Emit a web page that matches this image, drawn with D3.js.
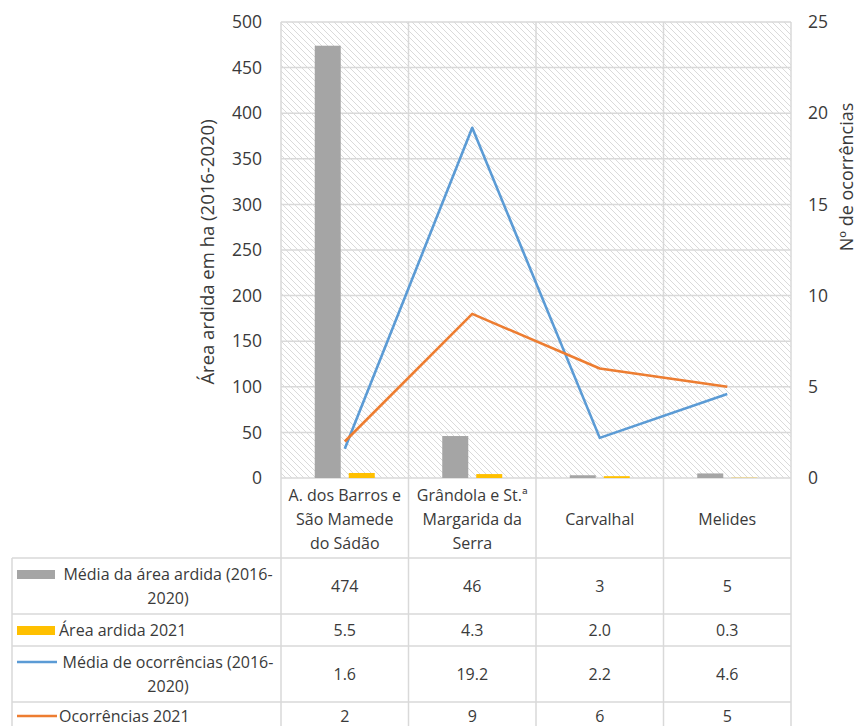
<!DOCTYPE html>
<html><head><meta charset="utf-8">
<script src="https://cdn.jsdelivr.net/npm/d3@7"></script>
<style>body{margin:0;background:#fff}svg{display:block;font-family:"Open Sans",sans-serif}</style>
</head><body>
<script>
const categories = [["A. dos Barros e","São Mamede","do Sádão"],["Grândola e St.ª","Margarida da","Serra"],["Carvalhal"],["Melides"]];
const mediaArea = [474, 46, 3, 5];
const area2021 = [5.5, 4.3, 2.0, 0.3];
const mediaOcorr = [1.6, 19.2, 2.2, 4.6];
const ocorr2021 = [2, 9, 6, 5];
const tableText = [["474","46","3","5"],["5.5","4.3","2.0","0.3"],["1.6","19.2","2.2","4.6"],["2","9","6","5"]];
const seriesLabels = [["Média da área ardida (2016-","2020)"],["Área ardida 2021"],["Média de ocorrências (2016-","2020)"],["Ocorrências 2021"]];
const leftTicks = [0,50,100,150,200,250,300,350,400,450,500];
const rightTicks = [0,5,10,15,20,25];
const colors = ["#a5a5a5","#ffc000","#5b9bd5","#ed7d31"];

const W=859,H=726;
const svg=d3.select("body").append("svg").attr("width",W).attr("height",H);
const L=281,R=791,T=22,B=478;
const x=d3.scaleBand().domain(d3.range(4)).range([L,R]);
const yL=d3.scaleLinear().domain([0,500]).range([B,T]);
const yR=d3.scaleLinear().domain([0,25]).range([B,T]);
const grid="#d9d9d9", txt="#3a3a3a";

const defs=svg.append("defs");
const pat=defs.append("pattern").attr("id","hatch").attr("patternUnits","userSpaceOnUse").attr("width",6).attr("height",6);
pat.append("path").attr("d","M-1,-1L7,7M-4,2L2,8M4,-2L8,2").attr("stroke","#dadada").attr("stroke-width",1);

svg.append("rect").attr("x",L).attr("y",T).attr("width",R-L).attr("height",B-T).attr("fill","url(#hatch)");

// gridlines
svg.append("g").selectAll("line").data(leftTicks).join("line")
  .attr("x1",L).attr("x2",R).attr("y1",d=>yL(d)).attr("y2",d=>yL(d)).attr("stroke",grid).attr("stroke-width",1.5);
svg.append("g").selectAll("line").data(d3.range(5)).join("line")
  .attr("x1",i=>i<4?x(i):R).attr("x2",i=>i<4?x(i):R).attr("y1",T).attr("y2",558).attr("stroke",grid).attr("stroke-width",1.5);

// axes tick labels
const axL=svg.append("g").attr("transform",`translate(${L},0)`).call(d3.axisLeft(yL).tickValues(leftTicks).tickSize(0).tickPadding(19));
axL.select(".domain").remove();
axL.selectAll("text").attr("font-size",17.5).attr("fill",txt).attr("font-family","Open Sans");
const axR=svg.append("g").attr("transform",`translate(${R},0)`).call(d3.axisRight(yR).tickValues(rightTicks).tickSize(0).tickPadding(17));
axR.select(".domain").remove();
axR.selectAll("text").attr("font-size",17.5).attr("fill",txt).attr("font-family","Open Sans");

svg.append("text").attr("transform",`translate(214,252) rotate(-90)`).attr("text-anchor","middle")
  .attr("font-size",18.5).attr("fill",txt).text("Área ardida em ha (2016-2020)");
svg.append("text").attr("transform",`translate(853,177) rotate(-90)`).attr("text-anchor","middle")
  .attr("font-size",18).attr("fill",txt).text("Nº de ocorrências");

// bars
const bw=26;
svg.append("g").selectAll("rect").data(mediaArea).join("rect")
  .attr("x",(d,i)=>x(i)+x.bandwidth()/2-4-bw).attr("width",bw)
  .attr("y",d=>yL(d)).attr("height",d=>B-yL(d)).attr("fill",colors[0]);
svg.append("g").selectAll("rect").data(area2021).join("rect")
  .attr("x",(d,i)=>x(i)+x.bandwidth()/2+4).attr("width",bw)
  .attr("y",d=>yL(d)).attr("height",d=>B-yL(d)).attr("fill",colors[1]);

// lines
const line=d3.line().x((d,i)=>x(i)+x.bandwidth()/2).y(d=>yR(d));
svg.append("path").datum(mediaOcorr).attr("d",line).attr("fill","none").attr("stroke",colors[2]).attr("stroke-width",2.6).attr("stroke-linejoin","round");
svg.append("path").datum(ocorr2021).attr("d",line).attr("fill","none").attr("stroke",colors[3]).attr("stroke-width",2.6).attr("stroke-linejoin","round");

// category header
const hdr=svg.append("g");
categories.forEach((lines,i)=>{
  const cx=x(i)+x.bandwidth()/2;
  const n=lines.length, y0=519-(n-1)*12;
  lines.forEach((s,k)=>hdr.append("text").attr("x",cx).attr("y",y0+k*24).attr("dy","0.35em")
    .attr("text-anchor","middle").attr("font-size",16).attr("fill",txt).text(s));
});

// table
const rowEdges=[558,614,646,702,740];
const tL=12;
const tg=svg.append("g");
rowEdges.forEach(y=>tg.append("line").attr("x1",tL).attr("x2",R).attr("y1",y).attr("y2",y).attr("stroke",grid).attr("stroke-width",1.5));
[tL,L,x(1),x(2),x(3),R].forEach(xx=>tg.append("line").attr("x1",xx).attr("x2",xx).attr("y1",558).attr("y2",740).attr("stroke",grid).attr("stroke-width",1.5));

seriesLabels.forEach((lines,r)=>{
  const top=rowEdges[r], bot=rowEdges[r+1]===740?730:rowEdges[r+1];
  const mid=(top+bot)/2;
  const y0=lines.length>1? top+16 : mid;
  if(r<2){
    tg.append("rect").attr("x",17).attr("y",y0-4).attr("width",38).attr("height",9).attr("fill",colors[r]);
  } else {
    tg.append("line").attr("x1",17).attr("x2",57).attr("y1",y0).attr("y2",y0).attr("stroke",colors[r]).attr("stroke-width",2.6);
  }
  lines.forEach((s,k)=>tg.append("text").attr("x",lines.length>1?168:59).attr("y",y0+k*24).attr("dy","0.35em")
    .attr("text-anchor",lines.length>1?"middle":"start").attr("font-size",16).attr("fill",txt).text(s));
  tableText[r].forEach((v,i)=>tg.append("text").attr("x",x(i)+x.bandwidth()/2).attr("y",lines.length>1?(top+bot)/2:y0).attr("dy","0.35em")
    .attr("text-anchor","middle").attr("font-size",16).attr("fill",txt).text(v));
});
</script>
</body></html>
